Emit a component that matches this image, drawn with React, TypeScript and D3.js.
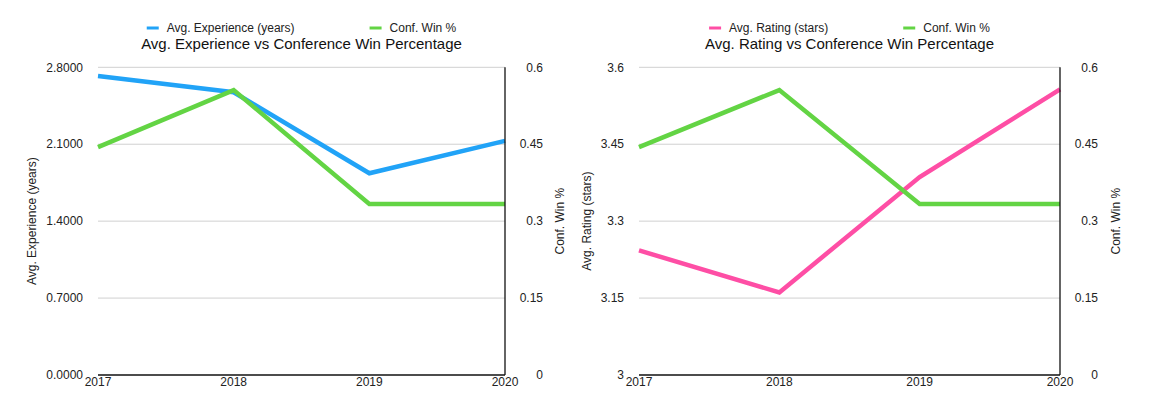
import React from "react";
import * as d3 from "d3";

const years = ["2017", "2018", "2019", "2020"];
const avgExperience = [2.72, 2.573, 1.836, 2.13];
const confWinPct = [0.4444, 0.5556, 0.3333, 0.3333];
const avgRating = [3.243, 3.161, 3.386, 3.557];

const expTicks = [0, 0.7, 1.4, 2.1, 2.8];
const winTicks = [0, 0.15, 0.3, 0.45, 0.6];
const ratingTicks = [3, 3.15, 3.3, 3.45, 3.6];

const BLUE = "#21a3f7";
const GREEN = "#63d444";
const PINK = "#fe4ea5";
const FONT = "'Liberation Sans', Arial, Helvetica, sans-serif";

const W = 1153;
const H = 420;
const TOP = 67.3;
const BOTTOM = 375;

function measure(text: string, size: number): number {
  if (typeof document === "undefined") return text.length * size * 0.55;
  const c = document.createElement("canvas");
  const ctx = c.getContext("2d");
  if (!ctx) return text.length * size * 0.55;
  ctx.font = `${size}px ${FONT}`;
  return ctx.measureText(text).width;
}

type PanelProps = {
  left: number;
  right: number;
  title: string;
  leftLabel: string;
  leftLabelX: number;
  rightLabelX: number;
  leftTicks: number[];
  leftFmt: (v: number) => string;
  leftValues: number[];
  leftColor: string;
  leftName: string;
};

function Panel(p: PanelProps) {
  const x = d3.scalePoint<string>().domain(years).range([p.left, p.right]);
  const yL = d3
    .scaleLinear()
    .domain([p.leftTicks[0], p.leftTicks[p.leftTicks.length - 1]])
    .range([BOTTOM, TOP]);
  const yR = d3
    .scaleLinear()
    .domain([winTicks[0], winTicks[winTicks.length - 1]])
    .range([BOTTOM, TOP]);

  const lineL = d3
    .line<number>()
    .x((_, i) => x(years[i]) as number)
    .y((d) => yL(d));
  const lineR = d3
    .line<number>()
    .x((_, i) => x(years[i]) as number)
    .y((d) => yR(d));

  const cx = (p.left + p.right) / 2;
  const midY = (TOP + BOTTOM) / 2;

  // legend layout
  const sw = 12;
  const sgap = 8;
  const igap = 75;
  const w1 = measure(p.leftName, 12);
  const w2 = measure("Conf. Win %", 12);
  const total = sw + sgap + w1 + igap + sw + sgap + w2;
  const lx = cx - total / 2;
  const l2x = lx + sw + sgap + w1 + igap;
  const legY = 28;

  const fmtR = (v: number) => d3.format("~g")(v);

  return (
    <g>
      {/* legend */}
      <line x1={lx} x2={lx + sw} y1={legY} y2={legY} stroke={p.leftColor} strokeWidth={3} />
      <text x={lx + sw + sgap} y={legY + 4} fontSize={12} fill="#222">
        {p.leftName}
      </text>
      <line x1={l2x} x2={l2x + sw} y1={legY} y2={legY} stroke={GREEN} strokeWidth={3} />
      <text x={l2x + sw + sgap} y={legY + 4} fontSize={12} fill="#222">
        Conf. Win %
      </text>
      {/* title */}
      <text x={cx} y={49} fontSize={15} textAnchor="middle" fill="#111">
        {p.title}
      </text>
      {/* gridlines */}
      {p.leftTicks.slice(1).map((t) => (
        <line
          key={"g" + t}
          x1={p.left}
          x2={p.right}
          y1={yL(t)}
          y2={yL(t)}
          stroke="#d0d0d0"
          strokeWidth={1}
        />
      ))}
      {/* left tick labels */}
      {p.leftTicks.map((t) => (
        <text
          key={"l" + t}
          x={p.left - 15}
          y={yL(t)}
          dy="0.35em"
          fontSize={12}
          textAnchor="end"
          fill="#222"
        >
          {p.leftFmt(t)}
        </text>
      ))}
      {/* right tick labels */}
      {winTicks.map((t) => (
        <text
          key={"r" + t}
          x={p.right + 38}
          y={yR(t)}
          dy="0.35em"
          fontSize={12}
          textAnchor="end"
          fill="#222"
        >
          {fmtR(t)}
        </text>
      ))}
      {/* x tick labels */}
      {years.map((yv) => (
        <text key={"x" + yv} x={x(yv)} y={386} fontSize={12} textAnchor="middle" fill="#222">
          {yv}
        </text>
      ))}
      {/* axis titles */}
      <text
        transform={`translate(${p.leftLabelX},${midY}) rotate(-90)`}
        fontSize={12}
        textAnchor="middle"
        dy="0.35em"
        fill="#222"
      >
        {p.leftLabel}
      </text>
      <text
        transform={`translate(${p.rightLabelX},${midY}) rotate(-90)`}
        fontSize={12}
        textAnchor="middle"
        dy="0.35em"
        fill="#222"
      >
        Conf. Win %
      </text>
      {/* data lines */}
      <path d={lineL(p.leftValues) ?? ""} fill="none" stroke={p.leftColor} strokeWidth={4.5} strokeLinejoin="miter" />
      <path d={lineR(confWinPct) ?? ""} fill="none" stroke={GREEN} strokeWidth={4.5} strokeLinejoin="miter" />
      {/* axes */}
      <line x1={p.left} x2={p.right} y1={BOTTOM} y2={BOTTOM} stroke="#111" strokeWidth={1.3} />
      <line x1={p.right} x2={p.right} y1={TOP} y2={BOTTOM} stroke="#111" strokeWidth={1.3} />
    </g>
  );
}

export default function App() {
  return (
    <svg
      width={W}
      height={H}
      style={{ position: "absolute", left: 0, top: 0, background: "#fff" }}
      fontFamily={FONT}
    >
      <rect width={W} height={H} fill="#fff" />
      <Panel
        left={98}
        right={505}
        title="Avg. Experience vs Conference Win Percentage"
        leftLabel="Avg. Experience (years)"
        leftLabelX={32}
        rightLabelX={560}
        leftTicks={expTicks}
        leftFmt={(v) => d3.format(".4f")(v)}
        leftValues={avgExperience}
        leftColor={BLUE}
        leftName="Avg. Experience (years)"
      />
      <Panel
        left={639}
        right={1060}
        title="Avg. Rating vs Conference Win Percentage"
        leftLabel="Avg. Rating (stars)"
        leftLabelX={587}
        rightLabelX={1116}
        leftTicks={ratingTicks}
        leftFmt={(v) => d3.format("~g")(v)}
        leftValues={avgRating}
        leftColor={PINK}
        leftName="Avg. Rating (stars)"
      />
    </svg>
  );
}
